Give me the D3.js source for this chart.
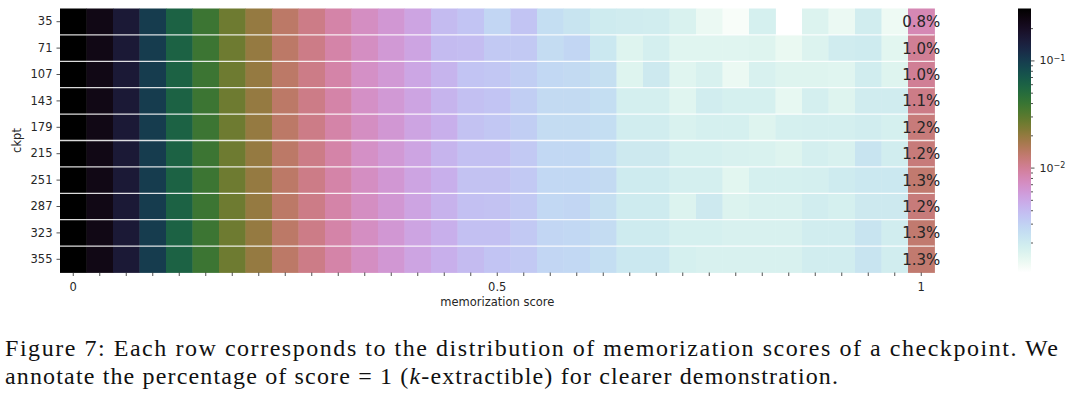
<!DOCTYPE html>
<html>
<head>
<meta charset="utf-8">
<script src="https://cdn.jsdelivr.net/npm/d3@7/dist/d3.min.js"></script>
<style>
  body { margin: 0; background: #fff; }
  svg { display: block; }
  .caption { font-family: 'Liberation Serif', 'Times New Roman', Times, serif; font-size: 24px; fill: #111; }
</style>
</head>
<body>
<svg id="chart" width="1080" height="393"></svg>
<script>
// checkpoints (rows) and memorization score bins (columns)
const ckpts = [35, 71, 107, 143, 179, 215, 251, 287, 323, 355];
const scoreBins = d3.range(33).map(i => i / 32);
const xTickLabels = { 0: '0', 16: '0.5', 32: '1' };

// fraction of samples per score bin, one row per checkpoint (0 = empty bin)
const freq = [
  [0.321, 0.234, 0.161, 0.0993, 0.0594, 0.0387, 0.0259, 0.0195, 0.0138, 0.011, 0.00875,
   0.00716, 0.0062, 0.00523, 0.00393, 0.0035, 0.00279, 0.0035, 0.00249, 0.00222, 0.00198, 0.00192,
   0.00187, 0.00167, 0.00133, 0.00115, 0.00176, 0, 0.00162, 0.00133, 0.00187, 0.00129, 0.008],
  [0.321, 0.234, 0.161, 0.0993, 0.0594, 0.0387, 0.0259, 0.0195, 0.0138, 0.011, 0.00875,
   0.00716, 0.00603, 0.00523, 0.00393, 0.00382, 0.00331, 0.00331, 0.00256, 0.00279, 0.00209, 0.00157,
   0.00181, 0.00153, 0.00153, 0.00153, 0.00157, 0.00136, 0.00162, 0.00192, 0.00198, 0.00149, 0.010],
  [0.321, 0.234, 0.161, 0.0993, 0.0594, 0.0387, 0.0259, 0.0195, 0.0138, 0.011, 0.00875,
   0.00696, 0.00603, 0.00508, 0.00428, 0.0035, 0.0034, 0.00312, 0.00271, 0.00263, 0.00242, 0.00157,
   0.00203, 0.00153, 0.00171, 0.00133, 0.00171, 0.00157, 0.00157, 0.00153, 0.00187, 0.00157, 0.010],
  [0.321, 0.234, 0.161, 0.0993, 0.0594, 0.0387, 0.0259, 0.0195, 0.0138, 0.011, 0.00875,
   0.00696, 0.00603, 0.00523, 0.00428, 0.00371, 0.0035, 0.00312, 0.00263, 0.00263, 0.00249, 0.00181,
   0.00181, 0.00153, 0.00187, 0.00176, 0.00176, 0.0014, 0.00181, 0.00157, 0.00192, 0.00192, 0.011],
  [0.321, 0.234, 0.161, 0.0993, 0.0594, 0.0387, 0.0259, 0.0195, 0.0138, 0.011, 0.00875,
   0.00716, 0.0062, 0.00523, 0.00453, 0.0036, 0.0034, 0.00312, 0.00256, 0.00256, 0.00249, 0.00187,
   0.00187, 0.00167, 0.00176, 0.00176, 0.00157, 0.00176, 0.00181, 0.00181, 0.00187, 0.00176, 0.012],
  [0.321, 0.234, 0.161, 0.0993, 0.0594, 0.0387, 0.0259, 0.0195, 0.0138, 0.011, 0.00875,
   0.00696, 0.00603, 0.00523, 0.00428, 0.00371, 0.00371, 0.00331, 0.00271, 0.00271, 0.00249, 0.00203,
   0.00203, 0.00176, 0.00176, 0.00171, 0.00167, 0.00157, 0.00181, 0.00171, 0.00222, 0.00187, 0.012],
  [0.321, 0.234, 0.161, 0.0993, 0.0594, 0.0387, 0.0259, 0.0195, 0.0138, 0.011, 0.00875,
   0.00716, 0.0062, 0.00523, 0.00453, 0.0036, 0.0036, 0.00331, 0.00271, 0.00271, 0.00263, 0.00198,
   0.00198, 0.00181, 0.00181, 0.00149, 0.00176, 0.00176, 0.00181, 0.00198, 0.00209, 0.00209, 0.013],
  [0.321, 0.234, 0.161, 0.0993, 0.0594, 0.0387, 0.0259, 0.0195, 0.0138, 0.011, 0.00875,
   0.00716, 0.0062, 0.00523, 0.0044, 0.00371, 0.0036, 0.00331, 0.00271, 0.00279, 0.00242, 0.00198,
   0.00198, 0.00162, 0.00203, 0.00162, 0.00171, 0.00171, 0.00187, 0.00176, 0.00203, 0.00203, 0.012],
  [0.321, 0.234, 0.161, 0.0993, 0.0594, 0.0387, 0.0259, 0.0195, 0.0138, 0.011, 0.00875,
   0.00716, 0.0062, 0.00523, 0.00453, 0.00371, 0.00371, 0.00331, 0.00279, 0.00271, 0.00256, 0.00198,
   0.00198, 0.00176, 0.00176, 0.00171, 0.00171, 0.00171, 0.00187, 0.00187, 0.00222, 0.00187, 0.013],
  [0.321, 0.234, 0.161, 0.0993, 0.0594, 0.0387, 0.0259, 0.0195, 0.0138, 0.011, 0.00875,
   0.00716, 0.0062, 0.00523, 0.00453, 0.00393, 0.0035, 0.00331, 0.00279, 0.00271, 0.00249, 0.00209,
   0.00209, 0.00176, 0.00171, 0.00171, 0.00171, 0.00171, 0.00187, 0.00187, 0.00222, 0.00187, 0.013]
];

const colorDomain = [0.00105, 0.305];
const cbarMajor = [0.01, 0.1];

const caption1 = 'Figure 7: Each row corresponds to the distribution of memorization scores of a checkpoint. We';

const svg = d3.select('#chart');
const font = 'DejaVu Sans, sans-serif';
const ink = '#262626';

const plotL = 60, plotR = 934.5, plotT = 8.5, plotB = 272.5;

const x = d3.scaleBand().domain(d3.range(scoreBins.length)).range([plotL, plotR]);
const y = d3.scaleBand().domain(ckpts).range([plotT, plotB]);

const color = d3.scaleSequentialLog(t => d3.interpolateCubehelixDefault(1 - t))
  .domain(colorDomain)
  .clamp(true);

// cells
const rows = svg.append('g').selectAll('g')
  .data(freq)
  .join('g')
  .attr('transform', (d, i) => 'translate(0,' + y(ckpts[i]) + ')');

rows.selectAll('rect')
  .data(d => d.map((v, j) => ({ v: v, j: j })).filter(c => c.v > 0))
  .join('rect')
  .attr('x', c => x(c.j))
  .attr('y', 0)
  .attr('width', x.bandwidth() + 0.4)
  .attr('height', y.bandwidth() + 0.4)
  .attr('fill', c => color(c.v));

// white separators between rows
svg.append('g').selectAll('line')
  .data(ckpts.slice(1))
  .join('line')
  .attr('x1', plotL).attr('x2', plotR)
  .attr('y1', d => y(d)).attr('y2', d => y(d))
  .attr('stroke', '#fff')
  .attr('stroke-opacity', 0.85)
  .attr('stroke-width', 1.3);

// percentage of score = 1
const last = scoreBins.length - 1;
svg.append('g').selectAll('text')
  .data(freq)
  .join('text')
  .attr('x', x(last) + x.bandwidth() / 2)
  .attr('y', (d, i) => y(ckpts[i]) + y.bandwidth() / 2)
  .attr('dy', '0.36em')
  .attr('text-anchor', 'middle')
  .attr('font-family', font)
  .attr('font-size', 15)
  .attr('fill', ink)
  .text(d => (d[last] * 100).toFixed(1) + '%');

// axes
function styleAxis(g) {
  g.select('.domain').remove();
  g.selectAll('.tick line').attr('stroke', ink).attr('stroke-width', 0.8);
  g.selectAll('.tick text').attr('fill', ink).attr('font-family', font).attr('font-size', 11.5);
}

svg.append('g')
  .attr('transform', 'translate(' + plotL + ',0)')
  .call(d3.axisLeft(y).tickSize(3.5).tickPadding(4))
  .call(styleAxis);

svg.append('g')
  .attr('transform', 'translate(0,' + plotB + ')')
  .call(d3.axisBottom(x).tickSize(3.5).tickPadding(6.5).tickFormat(i => xTickLabels[i] || ''))
  .call(styleAxis);

svg.append('text')
  .attr('transform', 'translate(21,' + ((plotT + plotB) / 2) + ') rotate(-90)')
  .attr('text-anchor', 'middle')
  .attr('font-family', font).attr('font-size', 11.5).attr('fill', ink)
  .text('ckpt');

svg.append('text')
  .attr('x', (plotL + plotR) / 2)
  .attr('y', 306)
  .attr('text-anchor', 'middle')
  .attr('font-family', font).attr('font-size', 11.5).attr('fill', ink)
  .text('memorization score');

// colorbar
const cbX = 1018, cbW = 13;
const grad = svg.append('defs').append('linearGradient')
  .attr('id', 'cbar').attr('x1', 0).attr('y1', 0).attr('x2', 0).attr('y2', 1);
grad.selectAll('stop')
  .data(d3.range(0, 1.0001, 0.02))
  .join('stop')
  .attr('offset', d => d)
  .attr('stop-color', d => d3.interpolateCubehelixDefault(d));

svg.append('rect')
  .attr('x', cbX).attr('y', plotT)
  .attr('width', cbW).attr('height', plotB - plotT)
  .attr('fill', 'url(#cbar)');

const cb = d3.scaleLog().domain(colorDomain).range([plotB, plotT]);
const minor = cb.ticks().filter(v => !cbarMajor.includes(v) && v < 0.25);

svg.append('g')
  .attr('transform', 'translate(' + (cbX + cbW) + ',0)')
  .call(d3.axisRight(cb).tickValues(minor).tickSize(2).tickFormat(''))
  .call(styleAxis);

const maj = svg.append('g')
  .attr('transform', 'translate(' + (cbX + cbW) + ',0)')
  .call(d3.axisRight(cb).tickValues(cbarMajor).tickSize(3.5).tickPadding(5).tickFormat(''))
  .call(styleAxis);

maj.selectAll('.tick').append('text')
  .attr('x', 8.5).attr('dy', '0.32em')
  .attr('fill', ink).attr('font-family', font).attr('font-size', 11)
  .call(t => t.append('tspan').text('10'))
  .call(t => t.append('tspan')
    .attr('font-size', 8).attr('dy', '-0.45em')
    .text(d => '\u2212' + Math.round(-Math.log10(d))));

// caption
const cap = svg.append('g').attr('class', 'caption');

cap.append('text')
  .attr('x', 5).attr('y', 356)
  .attr('textLength', 1053).attr('lengthAdjust', 'spacing')
  .text(caption1);

const line2 = cap.append('text')
  .attr('x', 5).attr('y', 384)
  .attr('textLength', 833).attr('lengthAdjust', 'spacing');
line2.append('tspan').text('annotate the percentage of score = 1 (');
line2.append('tspan').attr('font-style', 'italic').text('k');
line2.append('tspan').text('-extractible) for clearer demonstration.');
</script>
</body>
</html>
